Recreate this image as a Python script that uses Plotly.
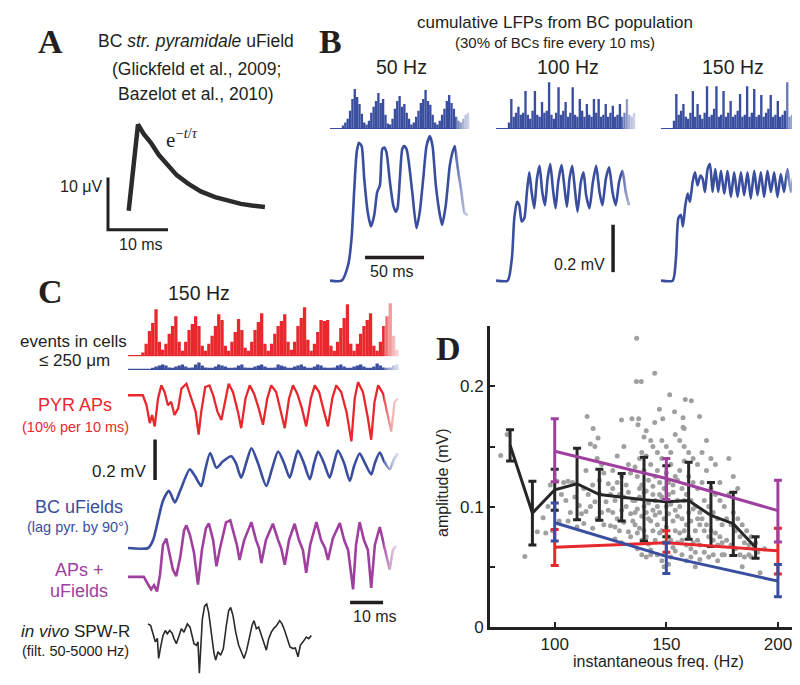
import plotly.graph_objects as go

W, H = 800, 685
SANS = "Liberation Sans, Arial, Helvetica, sans-serif"
SERIF = "Liberation Serif, Times New Roman, serif"
INK = "#231f20"
BLUE = "#3a4ea0"
RED = "#e8282d"
PURPLE = "#a0409e"
GRAY = "#a0a0a0"

# ---------------- Panel A: single BC uField (ms, microvolts)
a_t = [0, 1.55, 2.5, 3.7, 5.0, 6.5, 8.0, 9.9, 12.0, 14.4, 16.5, 18.7, 20.5, 22.7]
a_v = [0, 16.5, 14.7, 13.0, 10.7, 8.6, 6.8, 5.2, 3.7, 2.6, 1.9, 1.3, 1.0, 0.7]
A_SCALE_MS = 10
A_SCALE_UV = 10

# ---------------- Panel B: population histograms (2 ms bins) and cumulative LFPs (ms, mV)
B_BIN_MS = 2
hist50 = [0, 0, 0, 0, 0, 3, 6, 10, 18, 30, 40, 32, 25, 15, 6, 4, 8, 16, 22, 28,
          36, 26, 30, 14, 5, 4, 10, 20, 28, 33, 22, 25, 16, 10, 4, 6, 12, 18, 26, 30,
          39, 28, 24, 14, 6, 4, 8, 14, 20, 28, 34, 26, 20, 12, 8, 6, 10, 14, 16]
hist100 = [0, 0, 0, 0, 0, 6, 30, 12, 16, 22, 14, 16, 38, 14, 10, 18, 38, 14, 12, 27,
           16, 18, 47, 14, 10, 16, 42, 14, 18, 27, 12, 16, 42, 14, 12, 30, 18, 12, 25, 14,
           12, 30, 16, 30, 12, 14, 25, 12, 16, 23, 12, 14, 25, 12, 16, 30, 14, 12, 16]
hist150 = [0, 0, 0, 0, 0, 8, 35, 14, 18, 25, 12, 10, 16, 38, 12, 25, 14, 10, 16, 43,
           12, 14, 20, 43, 12, 14, 38, 12, 16, 28, 12, 14, 18, 35, 12, 14, 43, 12, 16, 40,
           12, 14, 34, 12, 16, 20, 34, 12, 14, 28, 12, 14, 18, 47, 12, 14, 22, 12, 10]

b50_t = [0, 9.9, 15.5, 18.3, 20.6, 22.6, 24.5, 26.8, 29.0, 31.9, 34.7, 37.5, 40.0, 42.3, 44.3,
         46.0, 47.9, 50.8, 53.6, 55.6, 57.2, 59.2, 61.2, 62.9, 64.9, 66.8, 69.7, 73.3, 76.1,
         79.0, 81.8, 84.6, 86.9, 89.7, 93.1, 95.0, 98.1, 101.5, 103.8, 105.8, 108.0, 111.4, 114.2, 117.0]
b50_v = [0, 0, 0.069, 0.181, 0.389, 0.542, 0.583, 0.569, 0.431, 0.292, 0.229, 0.278, 0.375, 0.403, 0.556,
         0.5625, 0.542, 0.417, 0.319, 0.292, 0.306, 0.431, 0.556, 0.569, 0.556, 0.5, 0.375, 0.222, 0.292,
         0.431, 0.569, 0.611, 0.569, 0.403, 0.278, 0.236, 0.319, 0.486, 0.542, 0.569, 0.486, 0.375, 0.285, 0.278]
b100_t = [0, 9.9, 13.5, 15.5, 17.8, 19.7, 21.7, 24.0, 26.2, 28.2, 30.2, 32.4, 34.7, 36.9, 39.2,
          41.5, 43.7, 46.0, 48.2, 50.5, 52.7, 55.6, 57.8, 60.1, 62.3, 64.6, 66.8, 69.1, 71.9,
          74.2, 76.4, 79.2, 82.1, 84.9, 87.7, 90.2, 93.1, 95.9, 98.7, 101.5, 104.3, 107.2, 110.0, 112.8]
b100_v = [0, 0, 0.097, 0.264, 0.333, 0.319, 0.25, 0.264, 0.375, 0.458, 0.375, 0.306, 0.431, 0.486, 0.375,
          0.319, 0.431, 0.493, 0.389, 0.306, 0.417, 0.489, 0.403, 0.313, 0.431, 0.486, 0.389, 0.292, 0.417,
          0.458, 0.361, 0.306, 0.417, 0.486, 0.375, 0.319, 0.431, 0.479, 0.375, 0.319, 0.417, 0.465, 0.375, 0.319]
b150_t = [0, 9.9, 12.7, 14.7, 16.9, 18.6, 20.6, 22.6, 24.5, 26.8, 28.8, 31.0, 33.3, 35.3, 37.2,
          39.5, 41.5, 43.7, 46.0, 48.5, 50.8, 53.6, 56.4, 59.2, 62.0, 64.9, 67.7, 70.5, 73.3,
          76.1, 79.0, 81.8, 84.6, 87.4, 90.2, 93.1, 95.9, 98.7, 101.5, 104.3, 107.2, 110.0, 112.8, 115.6]
b150_v = [0, 0, 0.097, 0.264, 0.278, 0.229, 0.319, 0.368, 0.333, 0.417, 0.458, 0.403, 0.444, 0.431, 0.375,
          0.472, 0.493, 0.375, 0.472, 0.375, 0.465, 0.368, 0.465, 0.354, 0.458, 0.354, 0.458, 0.361, 0.458,
          0.347, 0.465, 0.361, 0.458, 0.354, 0.465, 0.375, 0.458, 0.354, 0.451, 0.375, 0.472, 0.375, 0.458, 0.361]
B_SCALE_MS = 50
B_SCALE_MV = 0.2

# ---------------- Panel C: 150 Hz (1 ms bins; traces in ms, mV)
C_BIN_MS = 1
c_hist_pyr = [0, 0, 0, 0, 3, 12, 25, 33, 47, 14, 6, 12, 22, 30, 40, 14, 5, 14, 26, 32,
              40, 30, 10, 5, 12, 20, 30, 42, 36, 10, 5, 14, 24, 37, 26, 8, 5, 14, 26, 34,
              43, 12, 5, 12, 22, 30, 35, 42, 14, 6, 14, 30, 38, 49, 16, 5, 12, 24, 36, 35,
              36, 10, 5, 14, 28, 38, 52, 12, 5, 12, 22, 30, 36, 43, 10, 5, 14, 30, 40, 53, 20, 6]
c_hist_bc = [0, 0, 0, 0, 0, 0, 0, 1, 3, 4, 5, 4, 2, 1, 3, 4, 5, 3, 1, 2,
             5, 7, 4, 2, 1, 1, 3, 5, 4, 3, 1, 1, 2, 4, 5, 2, 1, 1, 3, 4,
             5, 3, 1, 1, 2, 5, 4, 3, 1, 1, 3, 4, 5, 3, 1, 1, 3, 5, 4, 2,
             1, 1, 2, 4, 5, 3, 1, 1, 3, 4, 5, 3, 1, 1, 3, 6, 4, 2, 1, 2, 4, 5]

cr_t = [0, 4.5, 5.6, 6.6, 7.3, 8.1, 9.1, 10.1, 11.1, 12.1, 13.1, 14.1, 15.2, 16.2, 17.7, 19.2, 20.5,
        21.4, 22.2, 23.4, 24.7, 25.8, 27.1, 28.3, 29.5, 30.5, 31.8, 33.3, 34.3, 35.6, 36.9, 38.2,
        39.6, 40.9, 42.2, 43.4, 44.9, 46.3, 47.5, 48.8, 50.0, 51.3, 52.7, 54.0, 55.4, 56.6, 57.9,
        59.4, 60.6, 61.9, 63.1, 64.6, 66.2, 67.7, 68.7, 69.7, 71.2, 72.7, 73.7, 74.7, 75.8, 77.3,
        78.8, 79.8, 80.8, 81.8]
cr_v = [0, 0, -0.049, -0.138, -0.098, -0.154, -0.016, 0.049, 0.016, -0.049, -0.033, -0.098, -0.065,
        0.033, 0.057, -0.016, -0.081, -0.195, -0.081, 0.041, 0.049, 0, -0.081, -0.122, -0.016, 0.057,
        0.016, -0.081, -0.163, -0.016, 0.049, 0.008, -0.065, -0.146, -0.016, 0.049, 0.016, -0.081,
        -0.163, -0.016, 0.049, 0.008, -0.065, -0.154, -0.016, 0.049, 0.016, -0.081, -0.154, -0.016,
        0.049, 0.016, -0.081, -0.228, -0.016, 0.065, 0.016, -0.114, -0.22, -0.033, 0.049, 0.008,
        -0.114, -0.179, -0.033, -0.016]
cb_t = [0, 6.1, 7.6, 9.1, 10.6, 12.4, 14.2, 15.8, 18.7, 20.3, 22.2, 23.3, 24.9, 26.8, 28.8, 31.3,
        32.7, 34.3, 35.8, 37.4, 39.4, 41.9, 43.6, 45.5, 47.3, 49.0, 50.3, 51.5, 53.3, 55.1, 56.4,
        57.6, 59.4, 61.1, 62.4, 63.6, 65.5, 67.2, 68.5, 70.2, 71.8, 73.7, 74.8, 76.3, 77.6, 79.3, 80.6, 81.8]
cb_v = [0, 0, 0.039, 0.137, 0.234, 0.283, 0.226, 0.283, 0.389, 0.356, 0.307, 0.380, 0.470, 0.397,
        0.429, 0.454, 0.420, 0.348, 0.420, 0.494, 0.420, 0.307, 0.390, 0.478, 0.420, 0.348, 0.420,
        0.483, 0.420, 0.340, 0.420, 0.478, 0.420, 0.348, 0.420, 0.483, 0.420, 0.332, 0.405, 0.468,
        0.420, 0.364, 0.420, 0.473, 0.429, 0.390, 0.439, 0.468]
cp_t = [0, 4.8, 6.1, 7.0, 7.9, 8.8, 9.7, 10.6, 11.6, 12.7, 13.6, 14.6, 15.8, 17.0, 17.7, 18.8, 20.0,
        21.2, 22.4, 23.6, 24.5, 25.8, 26.8, 27.9, 29.7, 31.0, 32.1, 33.0, 33.8, 35.2, 37.4, 38.8,
        39.7, 40.4, 41.8, 43.9, 45.5, 46.4, 47.5, 48.8, 50.5, 51.8, 53.0, 54.0, 55.2, 57.1, 58.5,
        59.7, 60.6, 62.1, 64.2, 65.5, 66.7, 68.2, 69.1, 70.2, 71.5, 72.7, 73.7, 74.8, 76.3, 77.6,
        79.3, 80.3, 81.2]
cp_v = [0, 0, -0.038, -0.062, -0.042, -0.072, 0.011, 0.158, 0.190, 0.109, 0.036, 0.003, 0.094,
        0.231, 0.255, 0.206, 0.119, -0.038, 0.133, 0.240, 0.265, 0.182, 0.052, 0.143, 0.270, 0.280,
        0.207, 0.158, 0.084, 0.182, 0.271, 0.182, 0.143, 0.068, 0.182, 0.263, 0.182, 0.143, 0.060,
        0.182, 0.263, 0.182, 0.133, 0.020, 0.158, 0.271, 0.182, 0.143, 0.084, 0.192, 0.266, 0.182,
        0.133, -0.062, 0.158, 0.271, 0.182, 0.133, -0.054, 0.158, 0.247, 0.158, 0.036, 0.133, 0.153]
iv_t = [6.06, 6.87, 7.58, 8.28, 8.89, 9.29, 9.90, 10.61, 11.31, 11.92, 12.63, 13.33, 13.94, 14.65,
        15.35, 16.16, 16.97, 17.98, 18.79, 19.39, 20.0, 20.71, 21.21, 21.62, 22.02, 22.53, 23.23,
        23.84, 24.44, 25.25, 26.06, 26.57, 27.27, 28.08, 28.89, 29.8, 30.5, 31.11, 31.82, 32.63,
        33.54, 34.34, 35.15, 35.96, 36.77, 37.58, 38.18, 38.89, 39.6, 40.4, 41.21, 41.92, 42.63,
        43.43, 44.24, 45.05, 45.96, 46.67, 47.47, 48.28, 49.09, 50.0, 50.71, 51.52, 52.22, 53.03,
        54.04, 54.75, 55.56]
iv_v = [0.039, 0.031, -0.010, -0.050, -0.033, -0.132, -0.075, -0.018, 0.006, -0.010, 0.006, -0.006,
        -0.034, -0.059, -0.026, 0.015, -0.002, 0.039, 0.023, -0.018, -0.059, -0.067, -0.050, -0.205,
        -0.067, 0.063, 0.128, 0.137, 0.096, -0.002, -0.107, -0.140, -0.099, -0.116, -0.083, 0.031,
        0.104, 0.120, 0.080, -0.002, -0.067, -0.099, -0.132, -0.091, -0.034, 0.031, 0.055, 0.015,
        0.023, -0.018, -0.059, -0.091, -0.034, -0.002, 0.018, 0.031, 0.055, 0.039, 0.006, -0.034,
        -0.075, -0.083, -0.080, -0.124, -0.067, -0.050, -0.026, -0.034, -0.018]
C_SCALE_MS = 10
C_SCALE_MV = 0.2

# ---------------- Panel D: amplitude vs instantaneous frequency
d_freq = [80, 90, 100, 110, 120, 130, 140, 150, 160, 170, 180, 190]
d_mean = [0.151, 0.0946, 0.114, 0.119, 0.110, 0.1076, 0.1057, 0.104, 0.105, 0.0926, 0.0858, 0.066]
d_hi = [0.164, 0.121, 0.131, 0.1485, 0.131, 0.1275, 0.141, 0.134, 0.137, 0.120, 0.112, 0.075]
d_lo = [0.138, 0.068, 0.097, 0.089, 0.0886, 0.088, 0.0714, 0.075, 0.0728, 0.0668, 0.0594, 0.057]

m_freq = [100, 150, 200]
sum_mean = [0.146, 0.1234, 0.0967]
sum_hi = [0.173, 0.140, 0.122]
sum_lo = [0.1207, 0.106, 0.0706]
pyr_mean = [0.0662, 0.070, 0.0632]
pyr_hi = [0.081, 0.080, 0.082]
pyr_lo = [0.051, 0.062, 0.044]
bc_mean = [0.0866, 0.0586, 0.038]
bc_hi = [0.103, 0.070, 0.0518]
bc_lo = [0.0714, 0.0444, 0.025]

events = [
    (136.7, 0.240), (136.6, 0.204), (138.8, 0.204), (144.8, 0.211), (151.5, 0.193), (158.5, 0.189),
    (161.2, 0.188), (114.5, 0.175), (134.6, 0.173), (137.6, 0.173), (146.9, 0.181), (153.7, 0.179),
    (157.5, 0.174), (164.9, 0.175), (129.9, 0.172), (148.4, 0.173), (157.5, 0.166), (158, 0.165),
    (117.2, 0.165), (137.3, 0.168), (141, 0.163), (144.8, 0.170), (119.4, 0.157), (78.7, 0.160),
    (75.8, 0.1425), (86.6, 0.0586), (94.8, 0.0907), (92.2, 0.079),
    (98, 0.118), (101, 0.121), (104, 0.12), (106, 0.121), (108, 0.12), (103, 0.11), (96, 0.078),
    (99, 0.08), (107, 0.095), (105, 0.105), (110, 0.083), (102, 0.088), (109, 0.108), (100, 0.097),
    (97, 0.1), (111, 0.101), (106, 0.088), (112, 0.094),
    (114, 0.13), (116, 0.152), (118, 0.15), (119, 0.14), (121, 0.135), (113, 0.115), (115, 0.11),
    (117, 0.118), (120, 0.122), (122, 0.128), (124, 0.119), (116, 0.1), (118, 0.104), (121, 0.095),
    (123, 0.104), (125, 0.11), (113, 0.086), (119, 0.09), (124, 0.097), (117, 0.082), (122, 0.085),
    (125, 0.084), (114, 0.096), (120, 0.111), (126, 0.115),
    (126, 0.13), (128, 0.12), (130, 0.125), (132, 0.118), (134, 0.128), (127, 0.105), (129, 0.11),
    (131, 0.108), (133, 0.112), (135, 0.105), (126, 0.095), (128, 0.09), (130, 0.097), (132, 0.1),
    (134, 0.094), (127, 0.083), (129, 0.08), (131, 0.087), (133, 0.079), (135, 0.088), (128, 0.142),
    (131, 0.15), (133, 0.135), (130, 0.07), (134, 0.075), (127, 0.073),
    (136, 0.133), (137, 0.125), (138, 0.14), (139, 0.118), (140, 0.13), (141, 0.113), (142, 0.122),
    (143, 0.135), (144, 0.11), (145, 0.125), (136, 0.105), (137, 0.098), (138, 0.108), (139, 0.092),
    (140, 0.1), (141, 0.095), (142, 0.103), (143, 0.088), (144, 0.097), (145, 0.093), (136, 0.085),
    (137, 0.078), (138, 0.082), (139, 0.072), (140, 0.08), (141, 0.075), (142, 0.069), (143, 0.064),
    (144, 0.08), (145, 0.072), (137, 0.065), (139, 0.06), (141, 0.058), (143, 0.06), (138, 0.115),
    (140, 0.112), (142, 0.09), (144, 0.117), (136, 0.095), (145, 0.105), (139, 0.145), (141, 0.142),
    (144, 0.15), (140, 0.158), (143, 0.155),
    (146, 0.13), (147, 0.12), (148, 0.14), (149, 0.115), (150, 0.128), (151, 0.11), (152, 0.135),
    (153, 0.118), (154, 0.125), (155, 0.105), (146, 0.1), (147, 0.095), (148, 0.108), (149, 0.09),
    (150, 0.1), (151, 0.094), (152, 0.102), (153, 0.088), (154, 0.097), (155, 0.092), (146, 0.085),
    (147, 0.078), (148, 0.08), (149, 0.07), (150, 0.083), (151, 0.075), (152, 0.072), (153, 0.066),
    (154, 0.08), (155, 0.07), (146, 0.06), (148, 0.055), (150, 0.062), (152, 0.058), (154, 0.063),
    (147, 0.11), (149, 0.105), (151, 0.12), (153, 0.112), (155, 0.122), (146, 0.145), (148, 0.155),
    (150, 0.15), (152, 0.145), (154, 0.16), (149, 0.05), (151, 0.052),
    (156, 0.13), (157, 0.115), (158, 0.138), (159, 0.11), (160, 0.125), (161, 0.105), (162, 0.12),
    (163, 0.1), (164, 0.115), (165, 0.095), (156, 0.1), (157, 0.09), (158, 0.105), (159, 0.085),
    (160, 0.095), (161, 0.088), (162, 0.098), (163, 0.08), (164, 0.09), (165, 0.085), (156, 0.078),
    (157, 0.072), (158, 0.08), (159, 0.068), (160, 0.075), (161, 0.065), (162, 0.07), (163, 0.062),
    (164, 0.072), (165, 0.068), (157, 0.06), (159, 0.055), (161, 0.058), (163, 0.05), (165, 0.056),
    (158, 0.15), (160, 0.145), (162, 0.14), (164, 0.135), (156, 0.155),
    (166, 0.12), (167, 0.105), (168, 0.13), (169, 0.1), (170, 0.115), (171, 0.095), (172, 0.11),
    (173, 0.09), (174, 0.105), (175, 0.085), (166, 0.09), (167, 0.08), (168, 0.085), (169, 0.075),
    (170, 0.08), (171, 0.072), (172, 0.078), (173, 0.068), (174, 0.075), (175, 0.07), (167, 0.062),
    (169, 0.058), (171, 0.06), (173, 0.055), (175, 0.06), (168, 0.155), (170, 0.14), (172, 0.135),
    (174, 0.12), (166, 0.145),
    (176, 0.1), (177, 0.09), (178, 0.11), (179, 0.085), (180, 0.095), (181, 0.08), (182, 0.09),
    (183, 0.075), (184, 0.085), (185, 0.07), (186, 0.08), (187, 0.068), (188, 0.075), (189, 0.065),
    (190, 0.07), (177, 0.072), (179, 0.068), (181, 0.065), (183, 0.06), (185, 0.058), (187, 0.06),
    (178, 0.14), (180, 0.125), (182, 0.115), (176, 0.06), (184, 0.05), (188, 0.058), (191, 0.062),
    (194, 0.065), (192, 0.045),
]
ev_freq = [e[0] for e in events]
ev_amp = [e[1] for e in events]

# ================= figure construction =================
fig = go.Figure()
layout = {}
annotations = []
shapes = []


def add_axes(n, left, right, top, bottom, x0px, xscale, y0px, yscale):
    """Invisible axis pair whose data units map to a fixed pixel scale."""
    layout[f"xaxis{n}"] = dict(domain=[left / W, right / W],
                               range=[(left - x0px) / xscale, (right - x0px) / xscale],
                               visible=False, anchor=f"y{n}", fixedrange=True)
    layout[f"yaxis{n}"] = dict(domain=[1 - bottom / H, 1 - top / H],
                               range=[(y0px - bottom) / yscale, (y0px - top) / yscale],
                               visible=False, anchor=f"x{n}", fixedrange=True)


def line(n, x, y, color, width, shape="linear", smoothing=None):
    kw = dict(shape=shape, color=color, width=width)
    if smoothing is not None:
        kw["smoothing"] = smoothing
    fig.add_trace(go.Scatter(x=x, y=y, mode="lines", line=kw, xaxis=f"x{n}", yaxis=f"y{n}",
                             hoverinfo="skip", showlegend=False))


def bars(n, vals, binw, color):
    centers = [binw * (i + 0.5) for i in range(len(vals))]
    fig.add_trace(go.Bar(x=centers, y=vals, width=binw, marker=dict(color=color, line=dict(width=0)),
                         xaxis=f"x{n}", yaxis=f"y{n}", hoverinfo="skip", showlegend=False))
    line(n, [0, binw * len(vals)], [0, 0], color, 1.2)


def label(text, x, y, size, color=INK, xanchor="center", yanchor="middle", family=SANS, angle=0):
    annotations.append(dict(text=text, x=x / W, y=1 - y / H, xref="paper", yref="paper",
                            xanchor=xanchor, yanchor=yanchor, showarrow=False, textangle=angle,
                            font=dict(size=size, color=color, family=family)))


def fade(x0, x1, y0, y1, steps=8, alpha=0.24):
    for k in range(steps):
        xs = x0 + (x1 - x0) * k / steps
        shapes.append(dict(type="rect", xref="paper", yref="paper", x0=xs / W, x1=x1 / W,
                           y0=1 - y1 / H, y1=1 - y0 / H, line=dict(width=0),
                           fillcolor=f"rgba(255,255,255,{alpha})", layer="above"))


# ---- Panel A
add_axes(2, 60, 285, 100, 240, 120.7, 6.0, 205.7, 5.3)
line(2, a_t, a_v, "#2b2b2b", 4.5)
ax0, ay0 = -3.45, -3.64
line(2, [ax0, ax0, ax0 + A_SCALE_MS], [ay0 + A_SCALE_UV, ay0, ay0], INK, 3)

# ---- Panel B
B_PX_MS = 1.18
B_PX_MV = 240
starts = [322, 488, 653]
for k, (hist, tt, vv) in enumerate([(hist50, b50_t, b50_v), (hist100, b100_t, b100_v),
                                    (hist150, b150_t, b150_v)]):
    x0 = starts[k]
    add_axes(3 + k, x0, min(x0 + 148, 799), 68, 124, x0, B_PX_MS, 122.3, 1.0)
    bars(3 + k, hist, B_BIN_MS, BLUE)
    add_axes(6 + k, x0, min(x0 + 148, 799), 122, 282, x0, B_PX_MS, 276.7, B_PX_MV)
    line(6 + k, tt, vv, BLUE, 2.6, "spline", 0.6)
line(6, [29.7, 29.7 + B_SCALE_MS], [0.0975, 0.0975], INK, 3.5)
line(7, [99.2, 99.2], [0.036, 0.036 + B_SCALE_MV], INK, 3.5)

# ---- Panel C
C_PX_MS = 3.3
C_PX_MV = 205
add_axes(9, 118, 396, 294, 354, 120, C_PX_MS, 352.7, 1.0)
bars(9, c_hist_pyr, C_BIN_MS, RED)
add_axes(10, 118, 396, 355, 369, 120, C_PX_MS, 366.7, 1.0)
bars(10, c_hist_bc, C_BIN_MS, BLUE)
add_axes(11, 118, 396, 370, 448, 120, C_PX_MS, 393, C_PX_MV)
line(11, cr_t, cr_v, RED, 2.3)
add_axes(12, 118, 396, 428, 553, 120, C_PX_MS, 548, C_PX_MV)
line(12, cb_t, cb_v, BLUE, 2.6, "spline", 0.7)
line(12, [8.2, 8.2], [0.337, 0.337 + C_SCALE_MV], INK, 3.5)
add_axes(13, 118, 396, 510, 597, 120, C_PX_MS, 577.3, C_PX_MV)
line(13, cp_t, cp_v, PURPLE, 2.6)
add_axes(14, 118, 396, 597, 685, 120, C_PX_MS, 633, C_PX_MV)
line(14, iv_t, iv_v, "#2a2a2a", 1.6)
line(14, [67.3, 67.3 + C_SCALE_MS], [0.145, 0.145], INK, 3.5)

# ---- Panel D
fig.add_trace(go.Scatter(x=ev_freq, y=ev_amp, mode="markers",
                         marker=dict(size=5, color=GRAY, line=dict(width=0)),
                         hoverinfo="skip", showlegend=False))


def errline(xs, m, hi, lo, color):
    fig.add_trace(go.Scatter(x=xs, y=m, mode="lines", line=dict(color=color, width=3),
                             error_y=dict(type="data", symmetric=False,
                                          array=[h - v for h, v in zip(hi, m)],
                                          arrayminus=[v - l for v, l in zip(m, lo)],
                                          color=color, thickness=3, width=4),
                             hoverinfo="skip", showlegend=False))


errline(d_freq, d_mean, d_hi, d_lo, "#262626")
errline(m_freq, pyr_mean, pyr_hi, pyr_lo, RED)
errline(m_freq, bc_mean, bc_hi, bc_lo, BLUE)
errline(m_freq, sum_mean, sum_hi, sum_lo, PURPLE)

layout["xaxis"] = dict(domain=[482 / W, 790 / W], range=[71, 209], showline=True, linecolor="#222",
                       linewidth=3, ticks="inside", ticklen=5, tickwidth=2, tickcolor="#222",
                       tickvals=[100, 150, 200], showgrid=False, zeroline=False, anchor="y",
                       tickfont=dict(size=17, family=SANS, color=INK), fixedrange=True)
layout["yaxis"] = dict(domain=[1 - 628 / H, 1 - 323 / H], range=[0, 0.25], showline=True,
                       linecolor="#222", linewidth=3, ticks="inside", ticklen=5, tickwidth=2,
                       tickcolor="#222", tickvals=[0, 0.1, 0.2], ticktext=["0", "0.1", "0.2"],
                       minor=dict(tickvals=[0.05, 0.15], ticks="inside", ticklen=5, tickwidth=2,
                                  tickcolor="#222", showgrid=False),
                       showgrid=False, zeroline=False,
                       anchor="x", tickfont=dict(size=17, family=SANS, color=INK), fixedrange=True)

# ---- fades at the right end of the simulated traces
fade(448, 470, 66, 284)
fade(614, 636, 66, 284)
fade(778, 800, 66, 284)
fade(376, 397, 292, 600)

# ---- text
label("<b>A</b>", 42, 34, 34, family=SERIF)
label("BC <i>str. pyramidale</i> uField", 188, 33, 17.5)
label("(Glickfeld et al., 2009;", 188, 62, 17.5)
label("Bazelot et al., 2010)", 188, 87, 17.5)
label("e<sup>−<i>t</i>/<i>τ</i></sup>", 156, 132, 21, family=SERIF, xanchor="left")
label("10 μV", 96, 181, 16, xanchor="right")
label("10 ms", 133, 240, 16)

label("<b>B</b>", 322, 34, 34, family=SERIF)
label("cumulative LFPs from BC population", 547, 15, 17)
label("(30% of BCs fire every 10 ms)", 547, 35, 15)
label("50 Hz", 393, 60, 19.5)
label("100 Hz", 560, 60, 19.5)
label("150 Hz", 725, 60, 19.5)
label("50 ms", 384, 267, 16)
label("0.2 mV", 599, 260, 16, xanchor="right")

label("<b>C</b>", 42, 288, 34, family=SERIF)
label("150 Hz", 191, 289, 19.5)
label("events in cells", 65, 338, 17)
label("≤ 250 μm", 66, 358, 17)
label("PYR APs", 67, 403, 18, color=RED)
label("(10% per 10 ms)", 67, 425, 14.5, color=RED)
label("0.2 mV", 141, 470, 17, xanchor="right")
label("BC uFields", 71, 506, 18, color=BLUE)
label("(lag pyr. by 90°)", 70, 527, 14.5, color=BLUE)
label("APs +", 71, 570, 18, color=PURPLE)
label("uFields", 71, 592, 18, color=PURPLE)
label("<i>in vivo</i> SPW-R", 67, 633, 17)
label("(filt. 50-5000 Hz)", 67, 653, 14.5)
label("10 ms", 367, 618, 16)

label("<b>D</b>", 440, 346, 34, family=SERIF)
label("amplitude (mV)", 435, 482, 16, angle=-90)
label("instantaneous freq. (Hz)", 650, 663, 16)

fig.update_layout(width=W, height=H, autosize=False, margin=dict(l=0, r=0, t=0, b=0, pad=0),
                  paper_bgcolor="white", plot_bgcolor="rgba(0,0,0,0)", showlegend=False,
                  barmode="overlay", annotations=annotations, shapes=shapes, **layout)
fig.write_html("out.html")
